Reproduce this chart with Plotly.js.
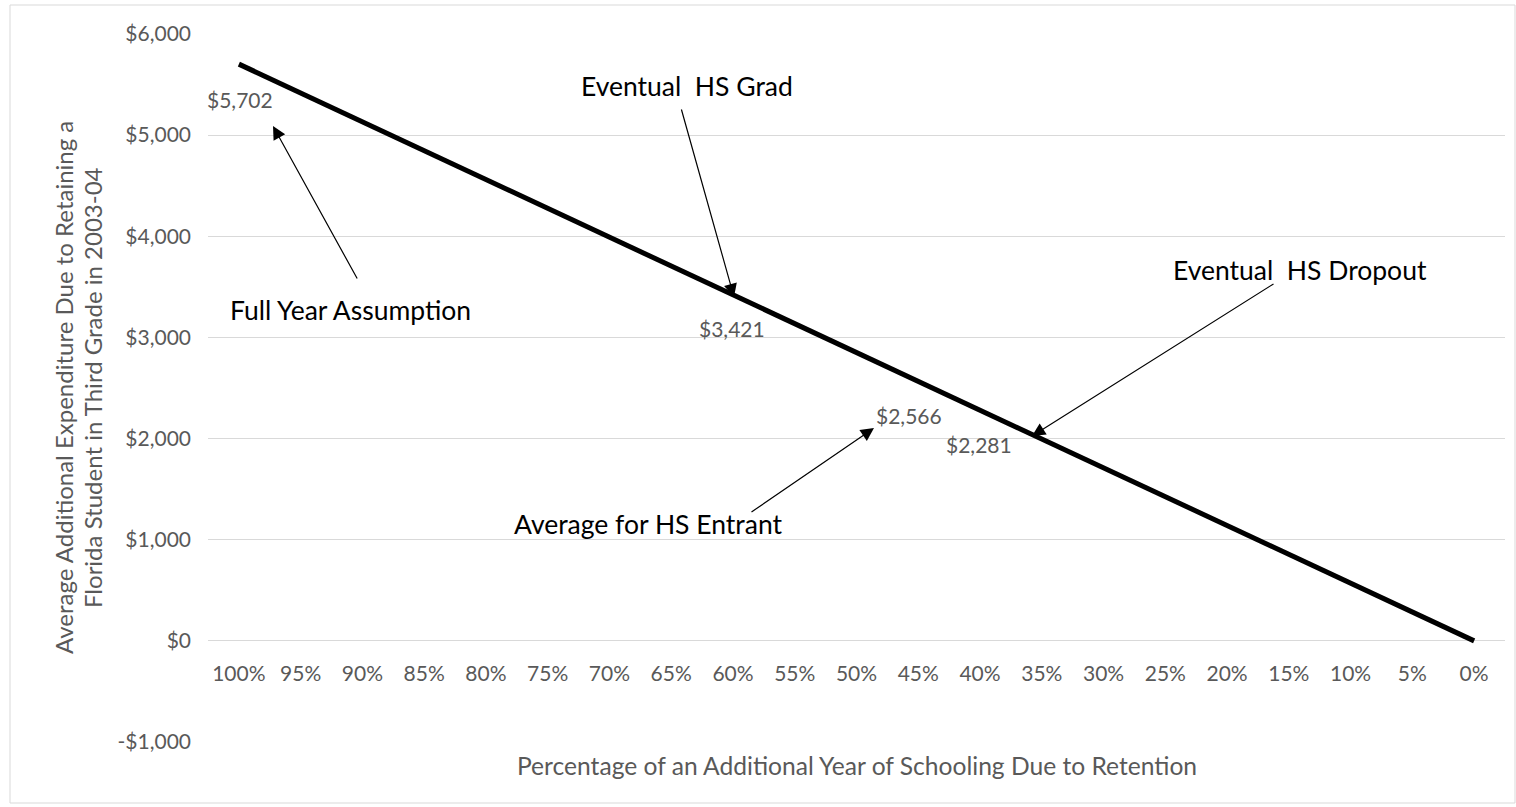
<!DOCTYPE html>
<html>
<head>
<meta charset="utf-8">
<script src="https://cdn.plot.ly/plotly-3.0.1.min.js"></script>
<style>html,body{margin:0;padding:0;background:#fff;}#chart{width:1516px;height:807px;}</style>
</head>
<body>
<div id="chart"></div>
<script>
// ---- data ----
const categories = ["100%","95%","90%","85%","80%","75%","70%","65%","60%","55%","50%","45%","40%","35%","30%","25%","20%","15%","10%","5%","0%"];
const expenditure = [5702,5417,5132,4846,4561,4276,3991,3706,3421,3136,2851,2566,2281,1996,1711,1425,1140,855,570,285,0];
const yTickVals = [-1000,0,1000,2000,3000,4000,5000,6000];
const yTickText = ["-$1,000","$0","$1,000","$2,000","$3,000","$4,000","$5,000","$6,000"];
const labeledIdx = [0, 8, 11, 12];
const labelText = ["$5,702","$3,421","$2,566","$2,281"];
const calloutText = ["Full Year Assumption","Eventual  HS Grad","Average for HS Entrant","Eventual  HS Dropout"];
const yTitleLines = ["Average Additional Expenditure Due to Retaining a","Florida Student in Third Grade in 2003-04"];
const xTitle = "Percentage of an Additional Year of Schooling Due to Retention";

const W = 1516, H = 807, L = 208, R = 1505, T = 34, B = 742;
const px = v => (v - L) / (R - L);
const py = v => (B - v) / (B - T);
const FONT = "Lato, 'Open Sans', sans-serif";
const GRAY = "#595959";

const annotations = [];
// data labels (offsets in px from the data point)
const labelShift = [[1, -35], [-1, -34], [-9, -34], [-1, -34]];
labeledIdx.forEach((idx, k) => {
  annotations.push({
    x: categories[idx], y: expenditure[idx], xref: 'x', yref: 'y',
    xanchor: 'center', yanchor: 'middle',
    text: labelText[k], showarrow: false,
    xshift: labelShift[k][0], yshift: labelShift[k][1],
    font: {family: FONT, size: 21, color: GRAY}
  });
});
// callout texts (pixel centres)
const calloutPos = [[350, 310], [687, 86], [648, 524], [1300, 270]];
calloutText.forEach((t, k) => {
  annotations.push({
    x: px(calloutPos[k][0]), y: py(calloutPos[k][1]), xref: 'paper', yref: 'paper',
    xanchor: 'center', yanchor: 'middle',
    text: t, showarrow: false, font: {family: FONT, size: 26.5, color: '#000'}
  });
});
// arrows: [tipX, tipY, tailX, tailY] in page pixels
const arrows = [[273, 126, 358, 280], [734, 297, 681, 108], [874, 428, 750, 513], [1032, 436, 1275, 283]];
arrows.forEach(a => {
  annotations.push({
    x: px(a[0]), y: py(a[1]), xref: 'paper', yref: 'paper',
    ax: a[2] - a[0], ay: a[3] - a[1], axref: 'pixel', ayref: 'pixel',
    text: '', showarrow: true, arrowhead: 2, arrowsize: 2.2, arrowwidth: 1.2,
    arrowcolor: '#000', standoff: 0, startstandoff: 0
  });
});
// y-axis title (two lines)
const yTitleX = [63, 92];
yTitleLines.forEach((t, k) => {
  annotations.push({
    x: px(yTitleX[k]), y: py(388), xref: 'paper', yref: 'paper', textangle: -90,
    xanchor: 'center', yanchor: 'middle',
    text: t, showarrow: false, font: {family: FONT, size: 24, color: GRAY}
  });
});
// x-axis title
annotations.push({
  x: px(857), y: py(765), xref: 'paper', yref: 'paper',
  xanchor: 'center', yanchor: 'middle',
  text: xTitle, showarrow: false, font: {family: FONT, size: 24.6, color: GRAY}
});

const trace = {
  x: categories, y: expenditure, type: 'scatter', mode: 'lines',
  line: {color: '#000', width: 5}, hoverinfo: 'x+y'
};

const layout = {
  width: W, height: H,
  margin: {l: L, r: W - R, t: T, b: H - B, pad: 0},
  paper_bgcolor: '#fff', plot_bgcolor: '#fff',
  showlegend: false,
  font: {family: FONT, color: GRAY},
  xaxis: {
    type: 'category', categoryorder: 'array', categoryarray: categories,
    range: [-0.5, 20.5], anchor: 'free', position: 1000 / 7000,
    showgrid: false, showline: false, zeroline: false, ticks: '',
    ticklabelstandoff: 18,
    tickfont: {family: FONT, size: 21, color: GRAY}
  },
  yaxis: {
    range: [-1000, 6000], tickvals: yTickVals, ticktext: yTickText,
    showgrid: true, gridcolor: '#d9d9d9', gridwidth: 1,
    zeroline: true, zerolinecolor: '#d9d9d9', zerolinewidth: 1,
    showline: false, ticks: '', ticklabelstandoff: 16,
    tickfont: {family: FONT, size: 21, color: GRAY}
  },
  annotations: annotations,
  shapes: [{
    type: 'rect', xref: 'paper', yref: 'paper',
    x0: px(10), x1: px(1515), y0: py(803), y1: py(5),
    line: {color: '#d9d9d9', width: 1}, fillcolor: 'rgba(0,0,0,0)', layer: 'below'
  }]
};

Plotly.newPlot('chart', [trace], layout, {displayModeBar: false, staticPlot: true});
</script>
</body>
</html>
